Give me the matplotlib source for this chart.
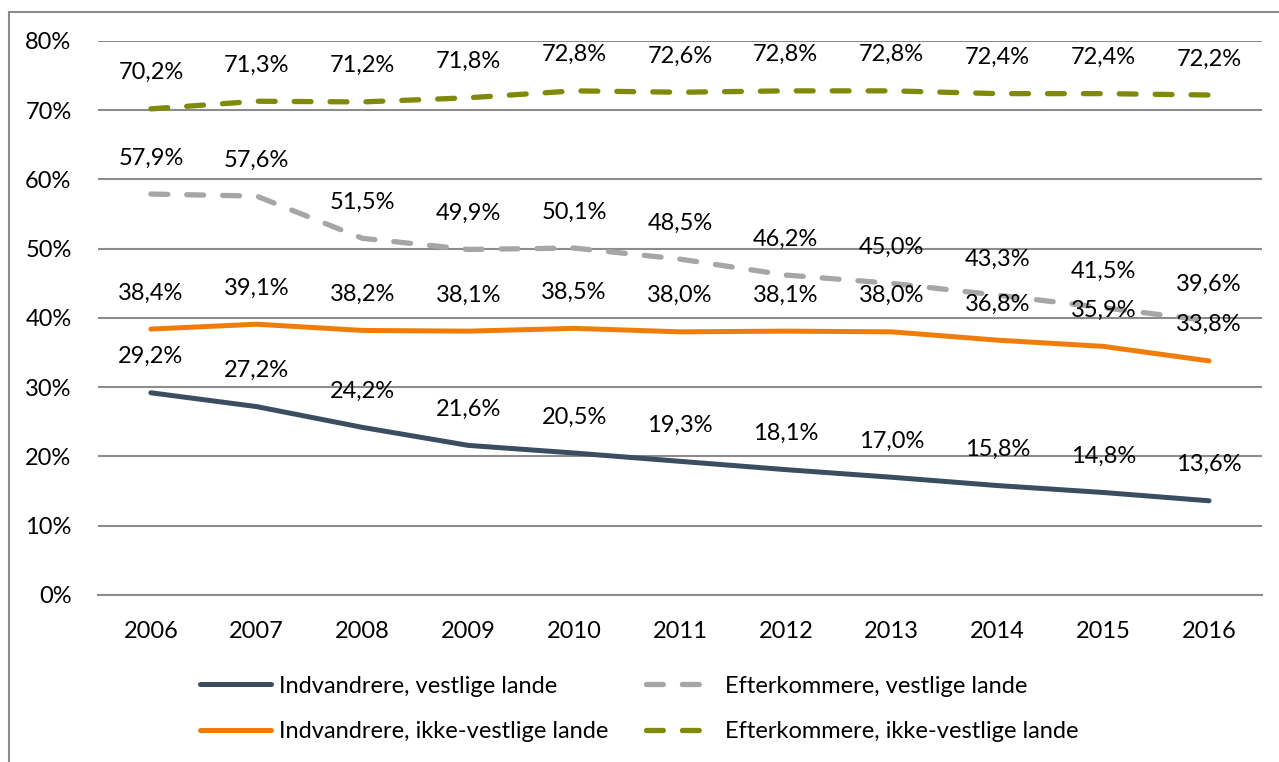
import matplotlib
matplotlib.use("Agg")
import matplotlib.pyplot as plt
from matplotlib.patches import Rectangle

plt.rcParams['font.family'] = ['Lato', 'DejaVu Sans']

years = [2006, 2007, 2008, 2009, 2010, 2011, 2012, 2013, 2014, 2015, 2016]
indv_vest = [29.2, 27.2, 24.2, 21.6, 20.5, 19.3, 18.1, 17.0, 15.8, 14.8, 13.6]
efter_vest = [57.9, 57.6, 51.5, 49.9, 50.1, 48.5, 46.2, 45.0, 43.3, 41.5, 39.6]
indv_ikke = [38.4, 39.1, 38.2, 38.1, 38.5, 38.0, 38.1, 38.0, 36.8, 35.9, 33.8]
efter_ikke = [70.2, 71.3, 71.2, 71.8, 72.8, 72.6, 72.8, 72.8, 72.4, 72.4, 72.2]

names = ["Indvandrere, vestlige lande", "Efterkommere, vestlige lande",
         "Indvandrere, ikke-vestlige lande", "Efterkommere, ikke-vestlige lande"]
series = [indv_vest, efter_vest, indv_ikke, efter_ikke]
colors = ["#3B4E61", "#A6A6A6", "#F07D0A", "#7F8A0A"]
dashed = [False, True, False, True]

fig = plt.figure(figsize=(12.79, 7.62), dpi=100)
ax = fig.add_axes([0.0766, 0.2192, 0.9101, 0.727])

# outer chart border (left and top visible)
fig.patches.append(Rectangle((9 / 1279, -0.1), 1.2, 1 - 12 / 762 + 0.1,
                             transform=fig.transFigure, fill=False,
                             edgecolor="#8C8C8C", lw=1.5, zorder=0))

x = list(range(len(years)))
handles = []
for vals, name, col, dsh in zip(series, names, colors, dashed):
    if dsh:
        ln, = ax.plot(x, vals, color=col, lw=3.8, dashes=(3.2, 3.6),
                      dash_capstyle="round", solid_capstyle="round", label=name)
    else:
        ln, = ax.plot(x, vals, color=col, lw=3.6, solid_capstyle="round", label=name)
    handles.append(ln)
    for xi, v in zip(x, vals):
        ax.annotate(f"{v:.1f}%".replace(".", ","), (xi, v), xytext=(0, 26),
                    textcoords="offset points", ha="center", va="center",
                    fontsize=17, color="#000000")

ax.set_xlim(-0.5, len(years) - 0.5)
ax.set_ylim(0, 80)
ax.set_yticks(range(0, 81, 10))
ax.set_yticklabels([f"{t}%" for t in range(0, 81, 10)])
ax.set_xticks(x)
ax.set_xticklabels([str(y) for y in years])
ax.yaxis.grid(True, color="#8C8C8C", lw=1.5)
ax.set_axisbelow(True)
for s in ax.spines.values():
    s.set_visible(False)
ax.spines['bottom'].set_visible(True)
ax.spines['bottom'].set_color("#8C8C8C")
ax.spines['bottom'].set_linewidth(1.5)
ax.tick_params(axis="both", length=0, labelsize=17, colors="#000000")
ax.tick_params(axis="x", pad=19)
ax.tick_params(axis="y", pad=19)

# column-wise fill: order so rows read as in the original
order = [0, 2, 1, 3]
fig.legend(handles=[handles[i] for i in order], labels=[names[i] for i in order],
           ncol=2, loc="center", bbox_to_anchor=(0.5, 0.0696), frameon=False,
           fontsize=17, handlelength=3.0, handletextpad=0.35, columnspacing=1.6,
           labelspacing=1.05)

fig.savefig("out.png", dpi=100)
